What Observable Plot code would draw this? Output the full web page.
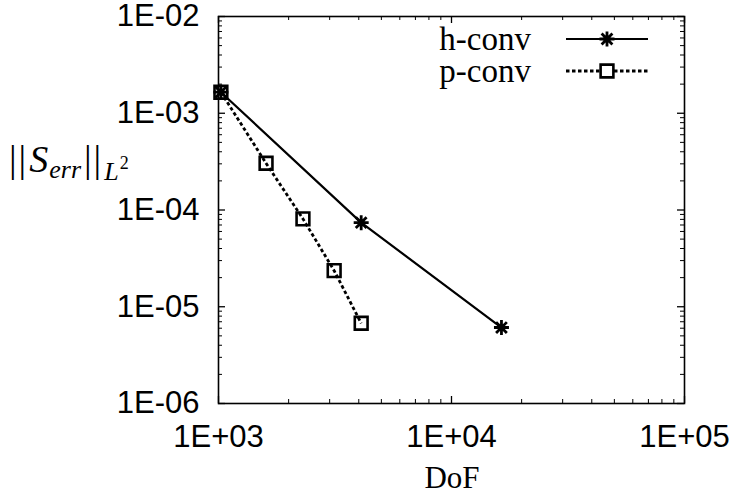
<!DOCTYPE html>
<html><head><meta charset="utf-8">
<script src="https://cdn.jsdelivr.net/npm/d3@7"></script>
<script src="https://cdn.jsdelivr.net/npm/@observablehq/plot@0.6"></script>
<style>body{margin:0;background:#fff} svg{display:block}</style>
</head><body><div id="chart"></div>
<script>
// ---- data ----
const seriesNames = ["h-conv", "p-conv"];
const hDof = [1024, 4096, 16384];
const hErr = [1.65e-3, 7.4e-5, 6.1e-6];
const pDof = [1024, 1600, 2304, 3136, 4096];
const pErr = [1.65e-3, 3.04e-4, 8.1e-5, 2.36e-5, 6.75e-6];
const xMajor = [1e3, 1e4, 1e5];
const xTickLabels = ["1E+03", "1E+04", "1E+05"];
const yMajor = [1e-6, 1e-5, 1e-4, 1e-3, 1e-2];
const yTickLabels = ["1E-06", "1E-05", "1E-04", "1E-03", "1E-02"];
const xLabel = "DoF";

// ---- layout ----
const W = 732, H = 495, mL = 218, mR = 48, mT = 16, mB = 92;
const pw = W - mL - mR, ph = H - mT - mB;
const majorLen = 7, minorLen = 4;

const minorsOf = majors => majors.slice(0, -1).flatMap(d => [2,3,4,5,6,7,8,9].map(k => k * d));
const xMinor = minorsOf(xMajor), yMinor = minorsOf(yMajor);

const h = hDof.map((x, i) => ({x, y: hErr[i]}));
const p = pDof.map((x, i) => ({x, y: pErr[i]}));

const asterisk8 = {
  draw(ctx, size) {
    const r = Math.sqrt(size / Math.PI), d = r * 0.72;
    ctx.moveTo(-r, 0); ctx.lineTo(r, 0);
    ctx.moveTo(0, -r); ctx.lineTo(0, r);
    ctx.moveTo(-d, -d); ctx.lineTo(d, d);
    ctx.moveTo(-d, d); ctx.lineTo(d, -d);
  }
};

const tickFont = "Liberation Sans, Arial, sans-serif";
const serif = "Liberation Serif, Times New Roman, serif";
const dash = "3.5,2.5";

const plot = Plot.plot({
  width: W, height: H,
  marginLeft: mL, marginRight: mR, marginTop: mT, marginBottom: mB,
  style: {fontFamily: tickFont, fontSize: "31px", color: "black", background: "white"},
  x: {type: "log", domain: [1e3, 1e5]},
  y: {type: "log", domain: [1e-6, 1e-2]},
  marks: [
    // inward ticks
    Plot.tickY(yMajor, {y: d => d, insetRight: pw - majorLen, stroke: "black", strokeWidth: 1.3}),
    Plot.tickY(yMinor, {y: d => d, insetRight: pw - minorLen, stroke: "black", strokeWidth: 1}),
    Plot.tickY(yMajor, {y: d => d, insetLeft: pw - majorLen, stroke: "black", strokeWidth: 1.3}),
    Plot.tickY(yMinor, {y: d => d, insetLeft: pw - minorLen, stroke: "black", strokeWidth: 1}),
    Plot.tickX(xMajor, {x: d => d, insetTop: ph - majorLen, stroke: "black", strokeWidth: 1.3}),
    Plot.tickX(xMinor, {x: d => d, insetTop: ph - minorLen, stroke: "black", strokeWidth: 1}),
    Plot.tickX(xMajor, {x: d => d, insetBottom: ph - majorLen, stroke: "black", strokeWidth: 1.3}),
    Plot.tickX(xMinor, {x: d => d, insetBottom: ph - minorLen, stroke: "black", strokeWidth: 1}),
    // tick labels
    Plot.axisX(xMajor, {anchor: "bottom", tickSize: 0, tickPadding: 21, label: null,
      tickFormat: d => xTickLabels[xMajor.indexOf(d)], fontSize: 31, fontFamily: tickFont}),
    Plot.axisY(yMajor, {anchor: "left", tickSize: 0, tickPadding: 19, label: null,
      tickFormat: d => yTickLabels[yMajor.indexOf(d)], fontSize: 31, fontFamily: tickFont}),
    Plot.frame({stroke: "black", strokeWidth: 1.6}),
    // series
    Plot.line(h, {x: "x", y: "y", stroke: "black", strokeWidth: 2.2}),
    Plot.line(p, {x: "x", y: "y", stroke: "black", strokeWidth: 2.8, strokeDasharray: dash, strokeLinecap: "butt"}),
    Plot.dot(p, {x: "x", y: "y", symbol: "square", r: 7.2, stroke: "black", strokeWidth: 2.6, fill: "none"}),
    Plot.dot(h, {x: "x", y: "y", symbol: asterisk8, r: 7.5, stroke: "black", strokeWidth: 2.8, fill: "none"})
  ]
});

document.getElementById("chart").appendChild(plot);
const svg = d3.select(plot);

// x label
svg.append("text").attr("x", 452).attr("y", 488).attr("text-anchor", "middle")
  .attr("font-family", serif).attr("font-size", 31).attr("fill", "black").text(xLabel);

// y label ||S_err||_{L^2}
const yl = svg.append("text").attr("x", 9).attr("y", 172).attr("text-anchor", "start")
  .attr("font-family", serif).attr("font-size", 38).attr("fill", "black");
yl.append("tspan").attr("letter-spacing", 2).text("||");
yl.append("tspan").attr("font-style", "italic").attr("dx", 1).text("S");
yl.append("tspan").attr("font-style", "italic").attr("font-size", 26).attr("dy", 6).attr("dx", 1).text("err");
yl.append("tspan").attr("dy", -6).attr("dx", 3).attr("letter-spacing", 2).text("||");
yl.append("tspan").attr("font-style", "italic").attr("font-size", 26).attr("dy", 8).attr("dx", 1).text("L");
yl.append("tspan").attr("font-size", 18).attr("dy", -11).attr("dx", 1).text("2");

// legend
const legend = [
  {name: seriesNames[0], y: 39, dash: null, w: 2.2, sym: "star"},
  {name: seriesNames[1], y: 71, dash: dash, w: 2.8, sym: "square"}
];
legend.forEach(L => {
  svg.append("text").attr("x", 531).attr("y", L.y + 11).attr("text-anchor", "end")
    .attr("font-family", serif).attr("font-size", 33).attr("fill", "black").text(L.name);
  svg.append("line").attr("x1", 566).attr("x2", 648).attr("y1", L.y).attr("y2", L.y)
    .attr("stroke", "black").attr("stroke-width", L.w).attr("stroke-dasharray", L.dash);
  if (L.sym === "star") {
    svg.append("path").attr("transform", `translate(607,${L.y})`)
      .attr("d", d3.symbol(asterisk8, Math.PI * 7.5 * 7.5)()).attr("stroke", "black").attr("stroke-width", 2.8).attr("fill", "none");
  } else {
    svg.append("path").attr("transform", `translate(607,${L.y})`)
      .attr("d", d3.symbol(d3.symbolSquare, Math.PI * 7.2 * 7.2)()).attr("stroke", "black").attr("stroke-width", 2.6).attr("fill", "white");
  }
});
</script>
</body></html>
